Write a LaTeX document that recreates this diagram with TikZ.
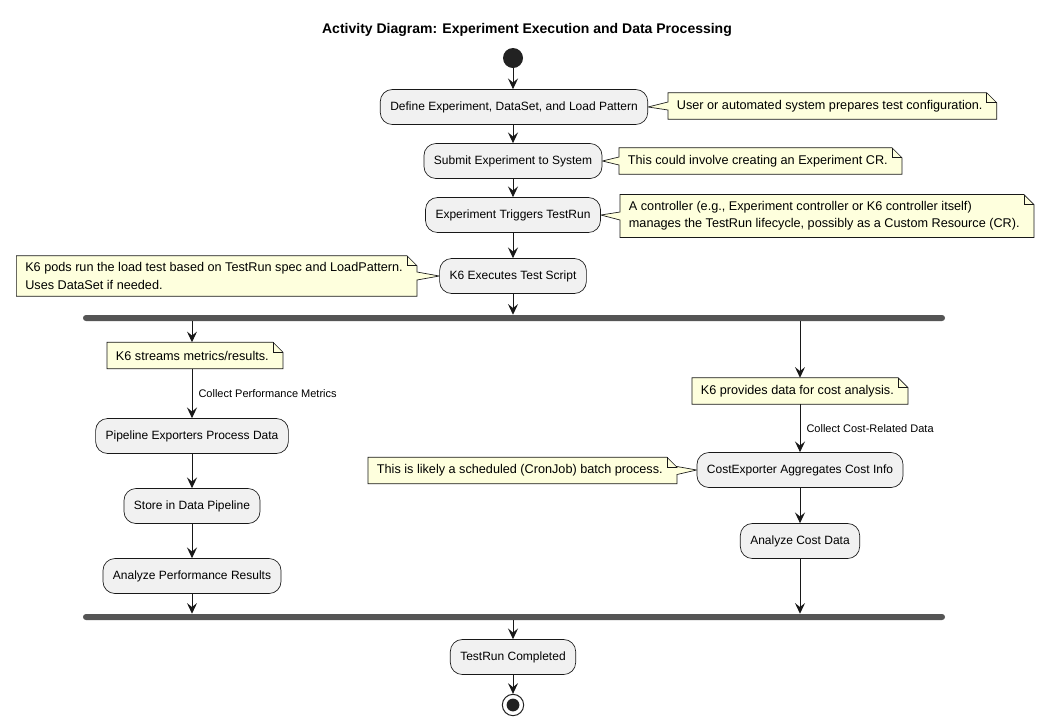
\documentclass[tikz,border=0pt]{standalone}
\usepackage{fontspec}
\setmainfont{Liberation Sans}
\usetikzlibrary{arrows.meta,calc,backgrounds}
\pgfdeclarelayer{paper}
\pgfsetlayers{paper,background,main}
\definecolor{boxfill}{HTML}{F1F1F1}
\definecolor{boxline}{HTML}{181818}
\definecolor{notefill}{HTML}{FEFFDD}
\definecolor{barcol}{HTML}{555555}
\definecolor{dotcol}{HTML}{222222}
\newcommand\padR{\hspace*{4pt}}
\newcommand\notePlain[1]{%
\begin{pgfonlayer}{background}
\draw[noteline] (#1.north west) -- ([xshift=-7.5pt]#1.north east) -- ([yshift=-7.5pt]#1.north east) -- (#1.south east) -- (#1.south west) -- cycle;
\draw[noteline,fill=none] ([xshift=-7.5pt]#1.north east) |- ([yshift=-7.5pt]#1.north east);
\end{pgfonlayer}}
\newcommand\noteWedgeLeft[2]{%
\begin{pgfonlayer}{background}
\draw[noteline] (#1.north west) -- ([xshift=-7.5pt]#1.north east) -- ([yshift=-7.5pt]#1.north east) -- (#1.south east) -- (#1.south west) -- ([yshift=-3pt]#1.west) -- (#2) -- ([yshift=3pt]#1.west) -- cycle;
\draw[noteline,fill=none] ([xshift=-7.5pt]#1.north east) |- ([yshift=-7.5pt]#1.north east);
\end{pgfonlayer}}
\newcommand\noteWedgeRight[2]{%
\begin{pgfonlayer}{background}
\draw[noteline] (#1.north west) -- ([xshift=-7.5pt]#1.north east) -- ([yshift=-7.5pt]#1.north east) -- ([yshift=3pt]#1.east) -- (#2) -- ([yshift=-3pt]#1.east) -- (#1.south east) -- (#1.south west) -- cycle;
\draw[noteline,fill=none] ([xshift=-7.5pt]#1.north east) |- ([yshift=-7.5pt]#1.north east);
\end{pgfonlayer}}
\begin{document}
\begin{tikzpicture}[x=0.75pt,y=-0.75pt,
 act/.style={draw=boxline, fill=boxfill, line width=0.5pt, rounded corners=9pt, minimum height=26.25pt, inner xsep=7.5pt, font=\fontsize{9}{11}\selectfont},
 notebox/.style={inner xsep=6.5pt, inner ysep=5pt, minimum height=19.5pt, align=left, font=\fontsize{9.5}{13}\selectfont},
 noteline/.style={draw=boxline, fill=notefill, line width=0.5pt},
 bar/.style={fill=barcol, rounded corners=2.2pt, minimum height=4.5pt, minimum width=646.5pt, inner sep=0pt},
 arr/.style={draw=boxline, line width=0.75pt, -{Stealth[length=8pt,width=7.5pt,inset=3pt]}},
 lbl/.style={font=\fontsize{8.25}{10}\selectfont, anchor=west, inner sep=0pt, xshift=4.5pt},
]
\begin{pgfonlayer}{paper}
\fill[white] (0,0) rectangle (1056,726);
\end{pgfonlayer}
\useasboundingbox (0,0) rectangle (1056,726);

\node[font=\bfseries\fontsize{10.5}{12}\selectfont] (title) at (527,30) {Activity Diagram: Experiment Execution and Data Processing};

\node[circle, fill=dotcol, minimum size=15pt, inner sep=0pt] (start) at (513,58) {};

\node[act] (a1) at (514,107) {Define Experiment, DataSet, and Load Pattern};
\node[notebox, anchor=west] (n1) at (668,106) {User or automated system prepares test configuration.\padR};
\noteWedgeLeft{n1}{a1.east}

\node[act] (a2) at (513,161) {Submit Experiment to System};
\node[notebox, anchor=west] (n2) at (619,161) {This could involve creating an Experiment CR.\padR};
\noteWedgeLeft{n2}{a2.east}

\node[act] (a3) at (513,215) {Experiment Triggers TestRun};
\node[notebox, anchor=west] (n3) at (620,216) {A controller (e.g., Experiment controller or K6 controller itself)\\manages the TestRun lifecycle, possibly as a Custom Resource (CR).\padR};
\noteWedgeLeft{n3}{a3.east}

\node[act] (a4) at (513,276) {K6 Executes Test Script};
\node[notebox, anchor=east] (n4) at (417,276) {K6 pods run the load test based on TestRun spec and LoadPattern.\padR\\Uses DataSet if needed.};
\noteWedgeRight{n4}{a4.west}

\node[bar] (fork) at (514,318) {};

% left branch
\coordinate (cL) at (192,330);
\node[notebox] (n5) at (195,355.5) {K6 streams metrics/results.\padR};
\notePlain{n5}
\node[act] (a5) at (192,436) {Pipeline Exporters Process Data};
\node[act] (a6) at (192,506) {Store in Data Pipeline};
\node[act] (a7) at (192,576) {Analyze Performance Results};

% right branch
\coordinate (cR) at (800,330);
\node[notebox] (n6) at (800,391) {K6 provides data for cost analysis.\padR};
\notePlain{n6}
\node[act] (a8) at (800,470) {CostExporter Aggregates Cost Info};
\node[notebox, anchor=east] (n7) at (677,470.5) {This is likely a scheduled (CronJob) batch process.\padR};
\noteWedgeRight{n7}{a8.west}
\node[act] (a9) at (800,541) {Analyze Cost Data};

\node[bar] (join) at (514,617) {};

\node[act] (a10) at (513,657) {TestRun Completed};
\node[circle, draw=dotcol, line width=0.75pt, fill=white, minimum size=16pt, inner sep=0pt,
  path picture={\fill[dotcol] (path picture bounding box.center) circle (4.8pt);}] (end) at (513,705) {};

% connectors
\draw[arr] (start) -- (start |- a1.north);
\draw[arr] (a2 |- a1.south) -- (a2.north);
\draw[arr] (a2) -- (a2 |- a3.north);
\draw[arr] (a3) -- (a3 |- a4.north);
\draw[arr] (a4) -- (a4 |- fork.north);

\draw[arr] (fork.south -| cL) -- (cL |- n5.north);
\draw[arr] (cL |- n5.south) -- node[lbl] {Collect Performance Metrics} (a5.north);
\draw[arr] (a5) -- (a6.north);
\draw[arr] (a6) -- (a7.north);
\draw[arr] (a7) -- (a7 |- join.north);

\draw[arr] (fork.south -| cR) -- (n6.north);
\draw[arr] (n6) -- node[lbl] {Collect Cost-Related Data} (a8.north);
\draw[arr] (a8) -- (a9.north);
\draw[arr] (a9) -- (a9 |- join.north);

\draw[arr] (join.south -| a10) -- (a10.north);
\draw[arr] (a10) -- (end.north);
\end{tikzpicture}
\end{document}
